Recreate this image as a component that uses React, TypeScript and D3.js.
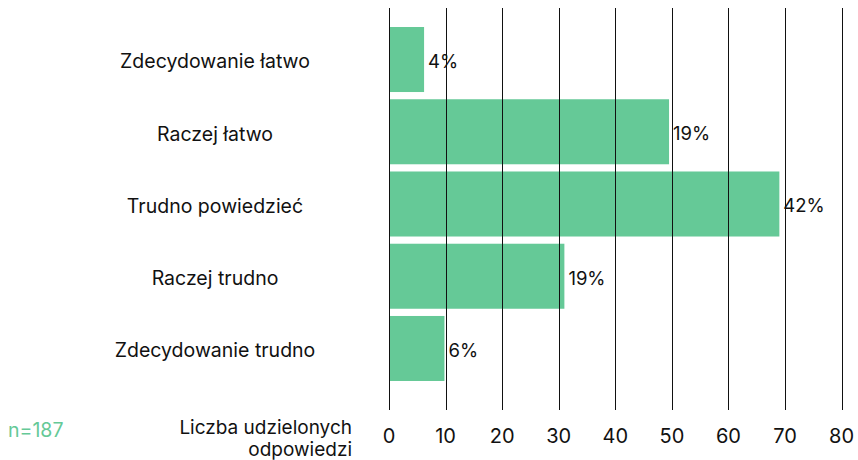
import React, { useEffect, useRef } from "react";
import * as d3 from "d3";

const categories = [
  "Zdecydowanie łatwo",
  "Raczej łatwo",
  "Trudno powiedzieć",
  "Raczej trudno",
  "Zdecydowanie trudno",
];
const counts = [6.2, 49.5, 69, 31, 9.8];
const percentLabels = ["4%", "19%", "42%", "19%", "6%"];
const xTicks = [0, 10, 20, 30, 40, 50, 60, 70, 80];
const sampleNote = "n=187";
const axisTitle = ["Liczba udzielonych", "odpowiedzi"];

const W = 858;
const H = 460;
const GREEN = "#65c997";
const FONT = "Inter, 'Open Sans', sans-serif";

const App = () => {
  const svgRef = useRef<SVGSVGElement>(null);

  useEffect(() => {
    const svg = d3.select(svgRef.current);
    svg.selectAll("*").remove();

    const margin = { left: 389, right: 16, top: 8, bottom: 50 };

    // ---------------------- scale
    const x = d3
      .scaleLinear()
      .domain([0, 80])
      .range([margin.left, 841.6]);

    const y = d3
      .scaleBand()
      .domain(categories)
      .range([23.4, 384.6])
      .paddingInner(0.1)
      .paddingOuter(0.05);

    // ---------------------- bars
    svg
      .append("g")
      .selectAll("rect")
      .data(counts)
      .join("rect")
      .attr("x", x(0))
      .attr("y", (_, i) => y(categories[i]) as number)
      .attr("width", d => x(d) - x(0))
      .attr("height", y.bandwidth())
      .attr("fill", GREEN);

    // ---------------------- grid lines (on top of bars)
    svg
      .append("g")
      .selectAll("line")
      .data(xTicks)
      .join("line")
      .attr("x1", d => Math.round(x(d)) + 0.5)
      .attr("x2", d => Math.round(x(d)) + 0.5)
      .attr("y1", margin.top)
      .attr("y2", 410)
      .attr("stroke", "#111")
      .attr("stroke-width", 1);

    // ---------------------- tick labels
    svg
      .append("g")
      .selectAll("text")
      .data(xTicks)
      .join("text")
      .attr("x", d => x(d))
      .attr("y", 443)
      .attr("text-anchor", "middle")
      .attr("font-size", 20)
      .attr("fill", "#111")
      .text(d => d);

    // ---------------------- category labels
    svg
      .append("g")
      .selectAll("text")
      .data(categories)
      .join("text")
      .attr("x", 215)
      .attr("y", d => (y(d) as number) + y.bandwidth() / 2 + 2)
      .attr("dy", "0.35em")
      .attr("text-anchor", "middle")
      .attr("font-size", 19.5)
      .attr("fill", "#111")
      .text(d => d);

    // ---------------------- value labels
    svg
      .append("g")
      .selectAll("text")
      .data(counts)
      .join("text")
      .attr("x", d => x(d) + 4)
      .attr("y", (_, i) => (y(categories[i]) as number) + y.bandwidth() / 2 + 2)
      .attr("dy", "0.35em")
      .attr("font-size", 18.5)
      .attr("fill", "#111")
      .text((_, i) => percentLabels[i]);

    // ---------------------- notes
    svg
      .append("text")
      .attr("x", 8)
      .attr("y", 437)
      .attr("font-size", 19.5)
      .attr("fill", GREEN)
      .text(sampleNote);

    svg
      .append("text")
      .attr("x", 352)
      .attr("y", 434)
      .attr("text-anchor", "end")
      .attr("font-size", 19)
      .attr("fill", "#111")
      .selectAll("tspan")
      .data(axisTitle)
      .join("tspan")
      .attr("x", 352)
      .attr("dy", (_, i) => (i === 0 ? 0 : 22))
      .text(d => d);
  }, []);

  return (
    <svg
      ref={svgRef}
      width={W}
      height={H}
      style={{ position: "absolute", left: 0, top: 0, fontFamily: FONT, background: "#fff" }}
    />
  );
};

export default App;
